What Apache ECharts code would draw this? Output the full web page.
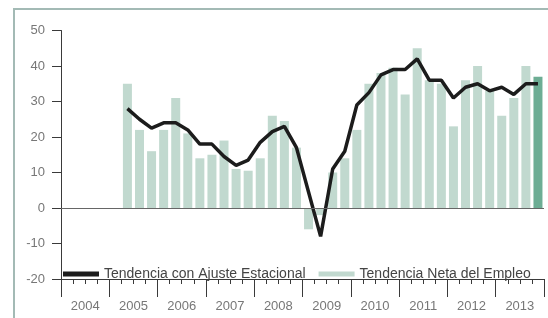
<!DOCTYPE html>
<html>
<head>
<meta charset="utf-8">
<script src="https://cdn.jsdelivr.net/npm/echarts@6/dist/echarts.min.js"></script>
<style>
  html, body { margin: 0; padding: 0; background: #fff; }
  #chart { width: 548px; height: 318px; }
</style>
</head>
<body>
<div id="chart"></div>
<script>
// años y trimestres del eje x
var years = ['2004', '2005', '2006', '2007', '2008', '2009', '2010', '2011', '2012', '2013'];
var quarters = [];
years.forEach(function (y) {
    for (var q = 1; q <= 4; q++) quarters.push(y + 'T' + q);
});

// desde 2005T2 hasta 2013T4 (35 trimestres)
var netaEmpleo = [35, 22, 16, 22, 31, 21, 14, 15, 19, 11, 10.5, 14, 26, 24.5, 17, -6, -2, 10, 14, 22,
    35, 38, 39.5, 32, 45, 36, 35, 23, 36, 40, 33, 26, 31, 40, 37];
var ajusteEstacional = [28, 25, 22.5, 24, 24, 22, 18, 18, 14.5, 12, 13.5, 18.5, 21.5, 23, 17, 4.5, -8, 11, 16, 29,
    32.5, 37.5, 39, 39, 42, 36, 36, 31, 34, 35, 33, 34, 32, 35, 35];
var startIndex = 5;

var yTicks = {min: -20, max: 50, interval: 10};

var barData = [], lineData = [];
for (var i = 0; i < quarters.length; i++) {
    var k = i - startIndex;
    if (k < 0) {
        barData.push(null);
        lineData.push(null);
        continue;
    }
    var item = {value: netaEmpleo[k]};
    if (k === netaEmpleo.length - 1) item.itemStyle = {color: '#6dad94'};
    barData.push(item);
    lineData.push(ajusteEstacional[k]);
}

var axisColor = '#3a3a3a';

var myChart = echarts.init(document.getElementById('chart'));
var option = {
    animation: false,
    textStyle: {fontFamily: 'Liberation Sans'},
    graphic: [{
        type: 'rect',
        shape: {x: 14, y: 9, width: 600, height: 400},
        style: {fill: 'none', stroke: '#a3bab5', lineWidth: 2},
        silent: true
    }],
    grid: {left: 61, right: 4, top: 30.5, bottom: 39},
    legend: {
        left: 58,
        top: 262,
        itemWidth: 36,
        itemHeight: 5,
        itemGap: 13,
        textStyle: {color: '#444', fontSize: 14},
        data: [
            {name: 'Tendencia con Ajuste Estacional', icon: 'rect', itemStyle: {color: '#1c1c1c'}},
            {name: 'Tendencia Neta del Empleo', icon: 'rect'}
        ]
    },
    xAxis: [{
        type: 'category',
        data: quarters,
        position: 'bottom',
        axisLine: {show: true, onZero: false, lineStyle: {color: axisColor, width: 1}},
        axisTick: {show: true, interval: 0, length: 5, lineStyle: {color: axisColor, width: 1}},
        axisLabel: {show: false},
        splitLine: {show: false}
    }, {
        type: 'category',
        data: years,
        position: 'bottom',
        axisLine: {show: true, onZero: false, lineStyle: {color: axisColor, width: 1}},
        axisTick: {show: true, interval: 0, length: 18, lineStyle: {color: axisColor, width: 1}},
        axisLabel: {margin: 21, color: '#777', fontSize: 13},
        splitLine: {show: false}
    }],
    yAxis: {
        type: 'value',
        min: yTicks.min,
        max: yTicks.max,
        interval: yTicks.interval,
        axisLine: {show: true, lineStyle: {color: axisColor, width: 1}},
        axisTick: {show: true, length: 9, lineStyle: {color: axisColor, width: 1}},
        axisLabel: {margin: 16, color: '#777', fontSize: 13},
        splitLine: {show: false}
    },
    series: [{
        name: 'Tendencia Neta del Empleo',
        type: 'bar',
        xAxisIndex: 0,
        data: barData,
        barWidth: 9,
        itemStyle: {color: '#c1d9cf'},
        markLine: {
            silent: true,
            symbol: ['none', 'none'],
            label: {show: false},
            lineStyle: {color: '#666', type: 'solid', width: 1},
            data: [{yAxis: 0}]
        }
    }, {
        name: 'Tendencia con Ajuste Estacional',
        type: 'line',
        xAxisIndex: 0,
        data: lineData,
        symbol: 'none',
        lineStyle: {color: '#1c1c1c', width: 3.5},
        itemStyle: {color: '#1c1c1c'},
        z: 3
    }]
};

myChart.setOption(option);
</script>
</body>
</html>
